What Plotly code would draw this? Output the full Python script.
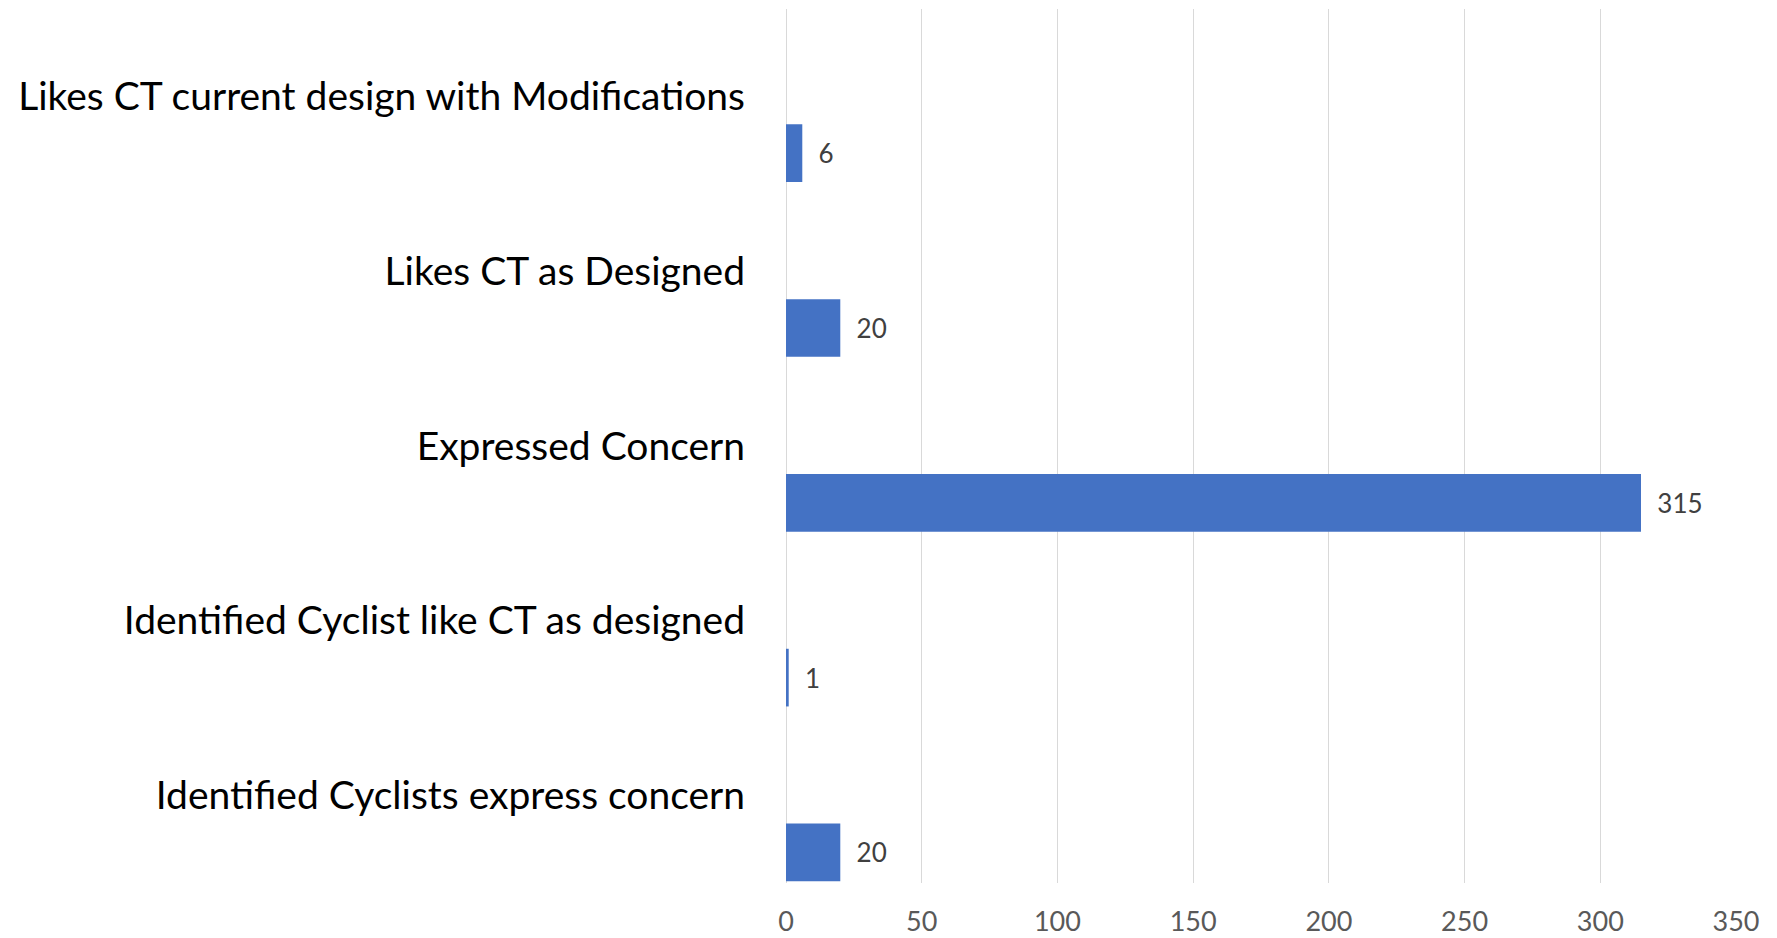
import plotly.graph_objects as go

categories = [
    "Likes CT current design with Modifications",
    "Likes CT as Designed",
    "Expressed Concern",
    "Identified Cyclist like CT as designed",
    "Identified Cyclists express concern",
]
values = [6, 20, 315, 1, 20]
x_ticks = [0, 50, 100, 150, 200, 250, 300, 350]

fig = go.Figure()
fig.add_trace(go.Bar(
    y=categories,
    x=values,
    orientation="h",
    width=0.33,
    offset=0.16,
    marker=dict(color="#4472C4", line=dict(width=0)),
    text=["\u00a0\u00a0" + str(v) for v in values],
    textposition="outside",
    constraintext="none",
    cliponaxis=False,
    textfont=dict(family="Lato, sans-serif", size=26, color="#404040"),
    hoverinfo="skip",
))

fig.update_layout(
    width=1769,
    height=930,
    margin=dict(l=778, r=41, t=1, b=50),
    paper_bgcolor="white",
    plot_bgcolor="white",
    showlegend=False,
    font=dict(family="Lato, sans-serif"),
)
fig.update_xaxes(
    range=[0, 350],
    tickvals=x_ticks,
    ticktext=[str(t) for t in x_ticks],
    showgrid=True,
    gridcolor="#D9D9D9",
    gridwidth=1,
    zeroline=True,
    zerolinecolor="#D9D9D9",
    zerolinewidth=1,
    showline=False,
    ticks="",
    ticklabelstandoff=20,
    tickfont=dict(family="Lato, sans-serif", size=27, color="#595959"),
)
fig.update_yaxes(
    type="category",
    categoryorder="array",
    categoryarray=categories,
    range=[4.5, -0.5],
    showgrid=False,
    zeroline=False,
    showline=False,
    ticks="",
    ticklabelstandoff=40,
    tickfont=dict(family="Lato, sans-serif", size=39, color="#000000"),
)

fig.write_html("out.html")
